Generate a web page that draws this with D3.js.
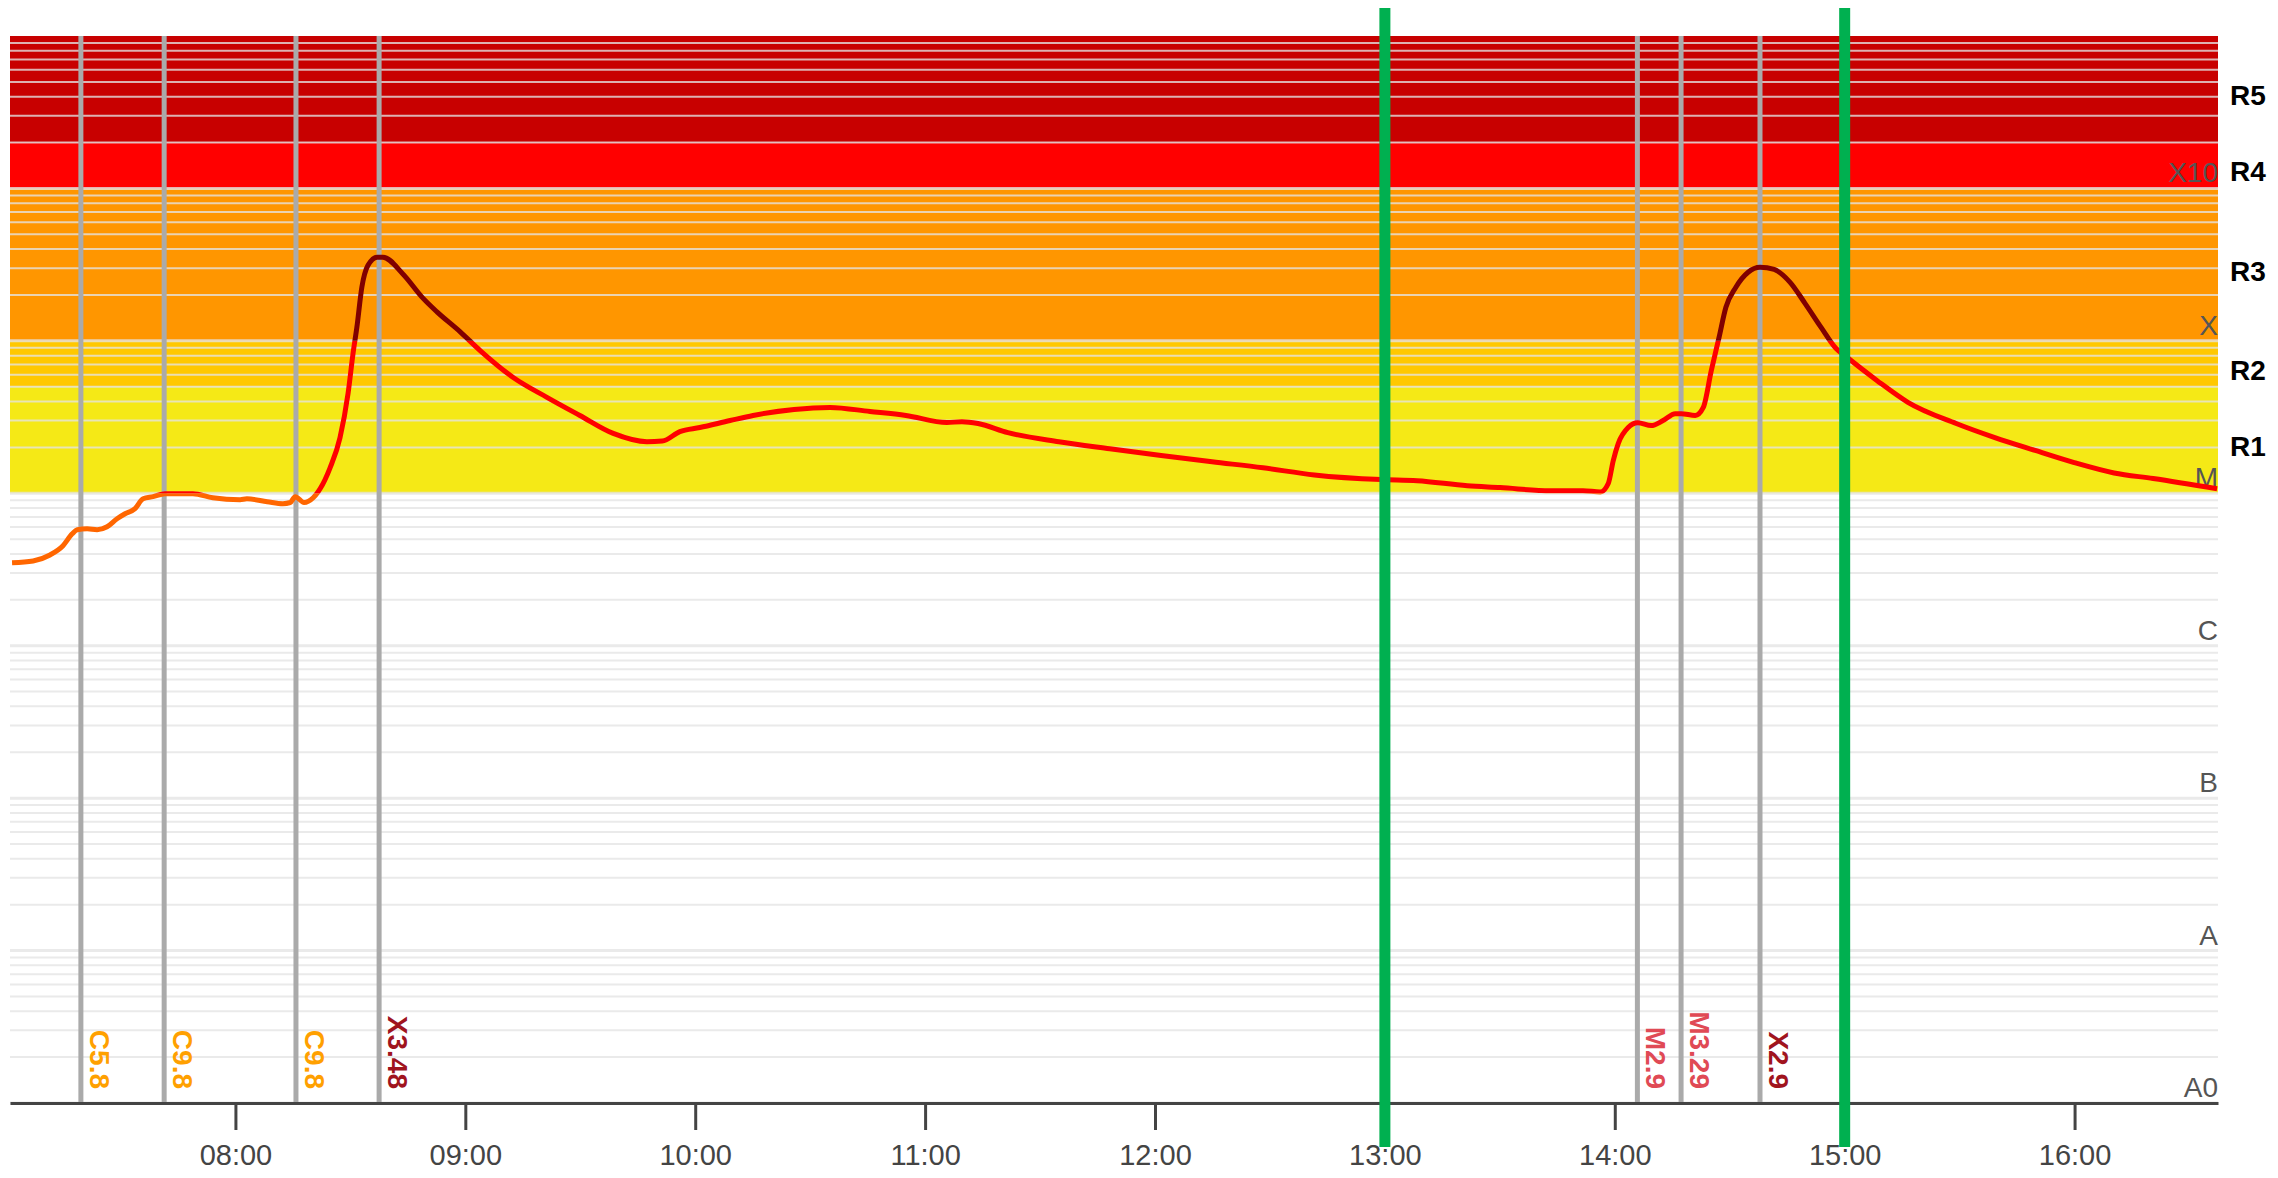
<!DOCTYPE html>
<html>
<head>
<meta charset="utf-8">
<script src="https://cdn.jsdelivr.net/npm/d3@7"></script>
<style>
  html, body { margin: 0; padding: 0; background: #fff; }
  svg { display: block; font-family: "Liberation Sans", Arial, sans-serif; }
</style>
</head>
<body>
<svg id="chart" width="2278" height="1178"></svg>
<script>
// ---------- data ----------
const fluxTimes = ["07:01:42","07:07:12","07:11:36","07:15:00","07:17:24","07:18:42","07:21:18","07:23:54","07:26:30","07:29:06",
  "07:31:12","07:33:48","07:35:54","07:38:30","07:41:36","07:48:54","07:54:06","08:01:12","08:03:00","08:08:18",
  "08:12:24","08:14:18","08:15:36","08:17:54","08:20:18","08:22:06","08:24:42","08:27:18","08:29:24","08:30:42",
  "08:31:42","08:33:00","08:34:36","08:37:00","08:38:30","08:43:42","08:49:00","08:52:36","08:58:36","09:03:48",
  "09:12:30","09:21:18","09:29:54","09:38:36","09:47:24","09:51:24","09:56:00","10:01:12","10:09:06","10:15:06",
  "10:25:48","10:35:12","10:45:36","10:55:00","11:05:42","11:09:36","11:13:48","11:21:36","11:34:54","11:48:12",
  "12:01:36","12:14:54","12:28:12","12:41:36","12:59:00","13:08:24","13:21:30","13:30:06","13:43:06","13:51:42",
  "13:56:12","13:58:18","13:59:36","14:00:54","14:03:30","14:06:00","14:09:30","14:12:36","14:15:48","14:17:18",
  "14:21:00","14:23:06","14:25:12","14:27:12","14:29:00","14:31:36","14:34:48","14:37:54","14:41:36","14:45:42",
  "14:49:36","14:53:48","14:57:42","15:00:36","15:08:24","15:16:30","15:29:06","15:39:12","15:49:42","15:59:54",
  "16:10:18","16:20:30","16:37:12"];
const fluxValues = [3.5e-6,3.6e-6,3.94e-6,4.53e-6,5.42e-6,5.77e-6,5.85e-6,5.77e-6,6.03e-6,6.81e-6,
  7.34e-6,7.93e-6,9.2e-6,9.5e-6,9.93e-6,9.93e-6,9.35e-6,9.08e-6,9.2e-6,8.81e-6,
  8.55e-6,8.7e-6,9.5e-6,8.7e-6,9.35e-6,1.07e-5,1.47e-5,2.32e-5,4.52e-5,8.28e-5,
  1.23e-4,2.25e-4,3.13e-4,3.54e-4,3.54e-4,2.75e-4,1.9e-4,1.55e-4,1.15e-4,8.67e-5,
  5.75e-5,4.26e-5,3.24e-5,2.47e-5,2.18e-5,2.2e-5,2.54e-5,2.7e-5,3.0e-5,3.24e-5,
  3.55e-5,3.66e-5,3.44e-5,3.24e-5,2.91e-5,2.95e-5,2.87e-5,2.5e-5,2.18e-5,1.96e-5,
  1.77e-5,1.61e-5,1.47e-5,1.32e-5,1.23e-5,1.21e-5,1.12e-5,1.09e-5,1.04e-5,1.04e-5,
  1.02e-5,1.16e-5,1.64e-5,2.12e-5,2.7e-5,2.9e-5,2.78e-5,3.0e-5,3.33e-5,3.33e-5,
  3.24e-5,3.66e-5,6.4e-5,1.05e-4,1.66e-4,2.25e-4,2.82e-4,3.04e-4,2.94e-4,2.43e-4,
  1.77e-4,1.23e-4,8.94e-5,7.8e-5,5.5e-5,3.95e-5,2.87e-5,2.32e-5,1.91e-5,1.59e-5,
  1.36e-5,1.25e-5,1.07e-5];

const flareTimes  = ["07:19:40","07:41:24","08:15:48","08:37:30","14:05:54","14:17:18","14:37:54"];
const flareLabels = ["C5.8","C9.8","C9.8","X3.48","M2.9","M3.29","X2.9"];

const markerTimes = ["13:00:00","15:00:00"];

const classLabels = ["A0","A","B","C","M","X","X10"];
const classValues = [1e-9,1e-8,1e-7,1e-6,1e-5,1e-4,1e-3];

const bandNames  = ["R1","R2","R3","R4","R5"];
const bandLows   = [1e-5,5e-5,1e-4,1e-3,2e-3];
const bandHighs  = [5e-5,1e-4,1e-3,2e-3,1e-2];
const bandColors = ["#f5e916","#ffc800","#ff9600","#ff0000","#c80000"];

const timeDomain = ["07:01:10","16:37:26"];
const fluxDomain = [1e-9, 1e-2];

// ---------- layout ----------
const svg = d3.select("#chart");
const plotL = 10, plotR = 2218, plotT = 36, plotB = 1103;
const parse = d3.timeParse("%H:%M:%S");

const x = d3.scaleTime().domain(timeDomain.map(parse)).range([plotL, plotR]);
const y = d3.scaleLog().domain(fluxDomain).range([plotB, plotT]);

// bands
svg.append("g").selectAll("rect").data(bandNames).join("rect")
  .attr("x", plotL).attr("width", plotR - plotL)
  .attr("y", (d, i) => y(bandHighs[i]))
  .attr("height", (d, i) => y(bandLows[i]) - y(bandHighs[i]))
  .attr("fill", (d, i) => bandColors[i]);

// grid lines
const gridVals = [];
for (let e = -9; e < -2; e++) for (let m = 1; m <= 9; m++) gridVals.push(m * Math.pow(10, e));
svg.append("g").selectAll("line").data(gridVals).join("line")
  .attr("x1", plotL).attr("x2", plotR)
  .attr("y1", d => y(d)).attr("y2", d => y(d))
  .attr("stroke", "rgba(228,228,228,0.78)")
  .attr("stroke-width", d => Math.abs(Math.log10(d) - Math.round(Math.log10(d))) < 1e-9 ? 3 : 2);

// class labels
svg.append("g").selectAll("text").data(classLabels).join("text")
  .attr("x", plotR).attr("y", (d, i) => y(classValues[i]) - 6)
  .attr("text-anchor", "end")
  .attr("font-size", 28).attr("fill", "#555")
  .text(d => d);

// band labels
svg.append("g").selectAll("text").data(bandNames).join("text")
  .attr("x", plotR + 12)
  .attr("y", (d, i) => (y(bandLows[i]) + y(bandHighs[i])) / 2 + 16)
  .attr("font-size", 28).attr("font-weight", "bold").attr("fill", "#000")
  .text(d => d);

// flare lines
const flareColor = l => l[0] === "X" ? "#a0141e" : (l[0] === "M" ? "#e04a55" : "#ffa000");
svg.append("g").selectAll("line").data(flareTimes).join("line")
  .attr("x1", d => x(parse(d))).attr("x2", d => x(parse(d)))
  .attr("y1", plotT).attr("y2", plotB)
  .attr("stroke", "#aaa").attr("stroke-width", 5);

// flux curve, coloured by class
const pts = fluxTimes.map((t, i) => [parse(t), fluxValues[i]]);
const line = d3.line().x(d => x(d[0])).y(d => y(d[1])).curve(d3.curveMonotoneX);
const defs = svg.append("defs");
const segs = [
  {id: "clipC", y0: y(1e-5), y1: plotB, color: "#ff6600"},
  {id: "clipM", y0: y(1e-4), y1: y(1e-5), color: "#ff0000"},
  {id: "clipX", y0: 0, y1: y(1e-4), color: "#800000"}
];
segs.forEach(s => {
  defs.append("clipPath").attr("id", s.id).append("rect")
    .attr("x", 0).attr("width", 2278).attr("y", s.y0).attr("height", s.y1 - s.y0);
  svg.append("path").datum(pts)
    .attr("d", line).attr("fill", "none")
    .attr("stroke", s.color).attr("stroke-width", 5)
    .attr("stroke-linejoin", "round")
    .attr("clip-path", `url(#${s.id})`);
});

// flare labels
svg.append("g").selectAll("text").data(flareTimes).join("text")
  .attr("transform", d => `translate(${x(parse(d)) + 9},${plotB - 14}) rotate(90)`)
  .attr("text-anchor", "end")
  .attr("font-size", 28).attr("font-weight", "bold")
  .attr("fill", (d, i) => flareColor(flareLabels[i]))
  .text((d, i) => flareLabels[i]);

// x axis
const xAxis = d3.axisBottom(x).ticks(d3.timeHour.every(1)).tickFormat(d3.timeFormat("%H:%M"))
  .tickSize(27).tickSizeOuter(0).tickPadding(14);
const gx = svg.append("g").attr("transform", `translate(0,${plotB})`).call(xAxis);
gx.select(".domain").attr("stroke", "#444").attr("stroke-width", 3);
gx.selectAll(".tick line").attr("stroke", "#444").attr("stroke-width", 3);
gx.selectAll(".tick text").attr("font-size", 29).attr("fill", "#444")
  .attr("font-family", "'Liberation Sans', Arial, sans-serif");

// green markers
svg.append("g").selectAll("line").data(markerTimes).join("line")
  .attr("x1", d => x(parse(d))).attr("x2", d => x(parse(d)))
  .attr("y1", 8).attr("y2", 1147)
  .attr("stroke", "#00b050").attr("stroke-width", 11);
</script>
</body>
</html>
